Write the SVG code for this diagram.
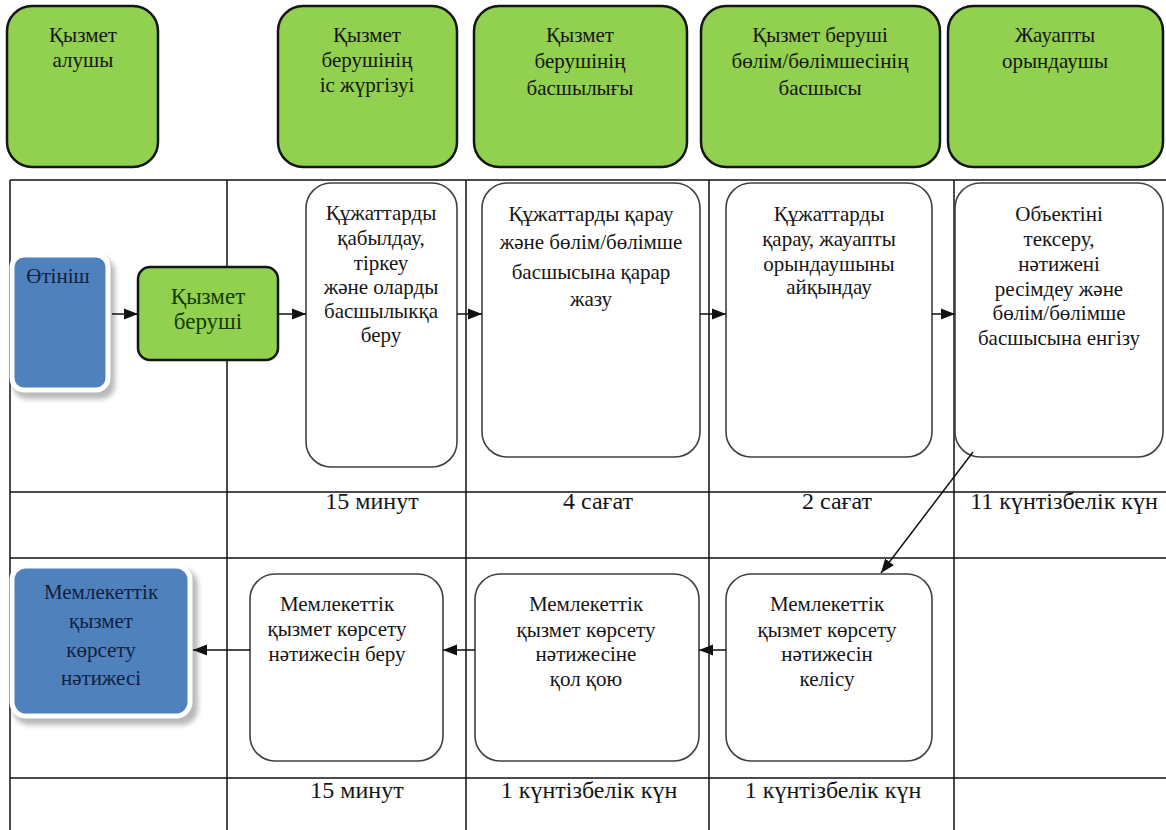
<svg xmlns="http://www.w3.org/2000/svg" width="1166" height="830" viewBox="0 0 1166 830">
<defs>
<style>
text{font-family:"Liberation Serif","Times New Roman",serif;font-size:21px;fill:#151515;text-anchor:middle}
.hdr{fill:#92d050;stroke:#151515;stroke-width:2.5}
.node{fill:#fff;stroke:#404040;stroke-width:1.6}
.grid{stroke:#111;stroke-width:1.5;fill:none}
.conn{stroke:#111;stroke-width:1.5;fill:none}
.blue{fill:#4f81bd;stroke:#fff;stroke-width:5}
.shadow{fill:#a8a8a8;opacity:0.8}
.navy{fill:#0f1f3f}
.dgreen{fill:#143c00;font-size:23px}
.time{font-size:24px}
</style>
<marker id="ah" viewBox="0 0 14 12" refX="14" refY="6" markerWidth="14" markerHeight="12" markerUnits="userSpaceOnUse" orient="auto">
<path d="M0,0.5 L14,6 L0,11.5 Z" fill="#111"/>
</marker>
<filter id="blur" x="-20%" y="-20%" width="140%" height="140%"><feGaussianBlur stdDeviation="2.5"/></filter>
</defs>
<rect width="1166" height="830" fill="#fff"/>

<g id="grid">
<line class="grid" x1="10" y1="180" x2="1166" y2="180"/>
<line class="grid" x1="10" y1="492" x2="1166" y2="492"/>
<line class="grid" x1="10" y1="558" x2="1166" y2="558"/>
<line class="grid" x1="10" y1="778" x2="1166" y2="778"/>
<line class="grid" x1="10" y1="180" x2="10" y2="830"/>
<line class="grid" x1="227" y1="180" x2="227" y2="830"/>
<line class="grid" x1="466" y1="180" x2="466" y2="830"/>
<line class="grid" x1="709" y1="180" x2="709" y2="830"/>
<line class="grid" x1="954" y1="180" x2="954" y2="830"/>
</g>

<g id="h1"><rect class="hdr" x="7" y="6" width="151" height="161" rx="25"/>
<text><tspan x="83" y="42">Қызмет</tspan><tspan x="83" y="67">алушы</tspan></text></g>
<g id="h2"><rect class="hdr" x="278" y="6" width="179" height="161" rx="25"/>
<text><tspan x="367" y="42">Қызмет</tspan><tspan x="367" y="67">берушінің</tspan><tspan x="367" y="92">іс жүргізуі</tspan></text></g>
<g id="h3"><rect class="hdr" x="474" y="6" width="213" height="161" rx="25"/>
<text><tspan x="580" y="42">Қызмет</tspan><tspan x="580" y="68">берушінің</tspan><tspan x="580" y="95">басшылығы</tspan></text></g>
<g id="h4"><rect class="hdr" x="701" y="6" width="239" height="161" rx="25"/>
<text><tspan x="820" y="42">Қызмет беруші</tspan><tspan x="820" y="68">бөлім/бөлімшесінің</tspan><tspan x="820" y="95">басшысы</tspan></text></g>
<g id="h5"><rect class="hdr" x="948" y="6" width="215" height="161" rx="25"/>
<text><tspan x="1055" y="42">Жауапты</tspan><tspan x="1055" y="68">орындаушы</tspan></text></g>

<g id="otinish">
<rect class="shadow" x="13" y="258" width="102" height="141" rx="14" filter="url(#blur)"/>
<rect class="blue" x="12" y="255" width="96" height="135" rx="12"/>
<text class="navy" x="58" y="283">Өтініш</text></g>

<g id="qyzmet_berushi"><rect fill="#92d050" stroke="#151515" stroke-width="2.5" x="138" y="267" width="140" height="93" rx="12"/>
<text class="dgreen"><tspan x="208" y="304">Қызмет</tspan><tspan x="208" y="329">беруші</tspan></text></g>

<g id="n1"><rect class="node" x="306" y="183" width="151" height="284" rx="25"/>
<text><tspan x="381" y="220">Құжаттарды</tspan><tspan x="381" y="245">қабылдау,</tspan><tspan x="381" y="270">тіркеу</tspan><tspan x="381" y="294">және оларды</tspan><tspan x="381" y="318">басшылыкқа</tspan><tspan x="381" y="342">беру</tspan></text></g>
<g id="n2"><rect class="node" x="482" y="183" width="218" height="274" rx="25"/>
<text><tspan x="591" y="221">Құжаттарды қарау</tspan><tspan x="591" y="249">және бөлім/бөлімше</tspan><tspan x="591" y="279">басшысына қарар</tspan><tspan x="591" y="306">жазу</tspan></text></g>
<g id="n3"><rect class="node" x="726" y="183" width="206" height="274" rx="25"/>
<text><tspan x="829" y="221">Құжаттарды</tspan><tspan x="829" y="246">қарау, жауапты</tspan><tspan x="829" y="271">орындаушыны</tspan><tspan x="829" y="294">айқындау</tspan></text></g>
<g id="n4"><rect class="node" x="955" y="183" width="208" height="274" rx="25"/>
<text><tspan x="1059" y="221">Объектіні</tspan><tspan x="1059" y="246">тексеру,</tspan><tspan x="1059" y="271">нәтижені</tspan><tspan x="1059" y="296">ресімдеу және</tspan><tspan x="1059" y="320">бөлім/бөлімше</tspan><tspan x="1059" y="345">басшысына енгізу</tspan></text></g>

<g id="b3"><rect class="node" x="726" y="574" width="206" height="187" rx="25"/>
<text><tspan x="827" y="611">Мемлекеттік</tspan><tspan x="827" y="637">қызмет көрсету</tspan><tspan x="827" y="661">нәтижесін</tspan><tspan x="827" y="686">келісу</tspan></text></g>
<g id="b2"><rect class="node" x="475" y="574" width="224" height="187" rx="25"/>
<text><tspan x="586" y="611">Мемлекеттік</tspan><tspan x="586" y="637">қызмет көрсету</tspan><tspan x="586" y="661">нәтижесіне</tspan><tspan x="586" y="686">қол қою</tspan></text></g>
<g id="b1"><rect class="node" x="250" y="574" width="193" height="187" rx="25"/>
<text><tspan x="337" y="611">Мемлекеттік</tspan><tspan x="337" y="636">қызмет көрсету</tspan><tspan x="337" y="661">нәтижесін беру</tspan></text></g>

<g id="result">
<rect class="shadow" x="13" y="569" width="185" height="156" rx="16" filter="url(#blur)"/>
<rect class="blue" x="12" y="566" width="178" height="150" rx="14"/>
<text class="navy"><tspan x="101" y="599">Мемлекеттік</tspan><tspan x="101" y="628">қызмет</tspan><tspan x="101" y="657">көрсету</tspan><tspan x="101" y="685">нәтижесі</tspan></text></g>

<g id="times">
<text class="time" x="372" y="509">15 минут</text>
<text class="time" x="598" y="509">4 сағат</text>
<text class="time" x="837" y="509">2 сағат</text>
<text class="time" x="1064" y="509">11 күнтізбелік күн</text>
<text class="time" x="357" y="798">15 минут</text>
<text class="time" x="589" y="798">1 күнтізбелік күн</text>
<text class="time" x="833" y="798">1 күнтізбелік күн</text>
</g>

<g id="connectors">
<line class="conn" x1="112" y1="314" x2="138" y2="314" marker-end="url(#ah)"/>
<line class="conn" x1="278" y1="314" x2="306" y2="314" marker-end="url(#ah)"/>
<line class="conn" x1="457" y1="314" x2="482" y2="314" marker-end="url(#ah)"/>
<line class="conn" x1="700" y1="314" x2="726" y2="314" marker-end="url(#ah)"/>
<line class="conn" x1="932" y1="314" x2="955" y2="314" marker-end="url(#ah)"/>
<line class="conn" x1="973" y1="452" x2="881" y2="573" marker-end="url(#ah)"/>
<line class="conn" x1="726" y1="650" x2="699" y2="650" marker-end="url(#ah)"/>
<line class="conn" x1="475" y1="650" x2="443" y2="650" marker-end="url(#ah)"/>
<line class="conn" x1="250" y1="650" x2="193" y2="650" marker-end="url(#ah)"/>
</g>
</svg>
